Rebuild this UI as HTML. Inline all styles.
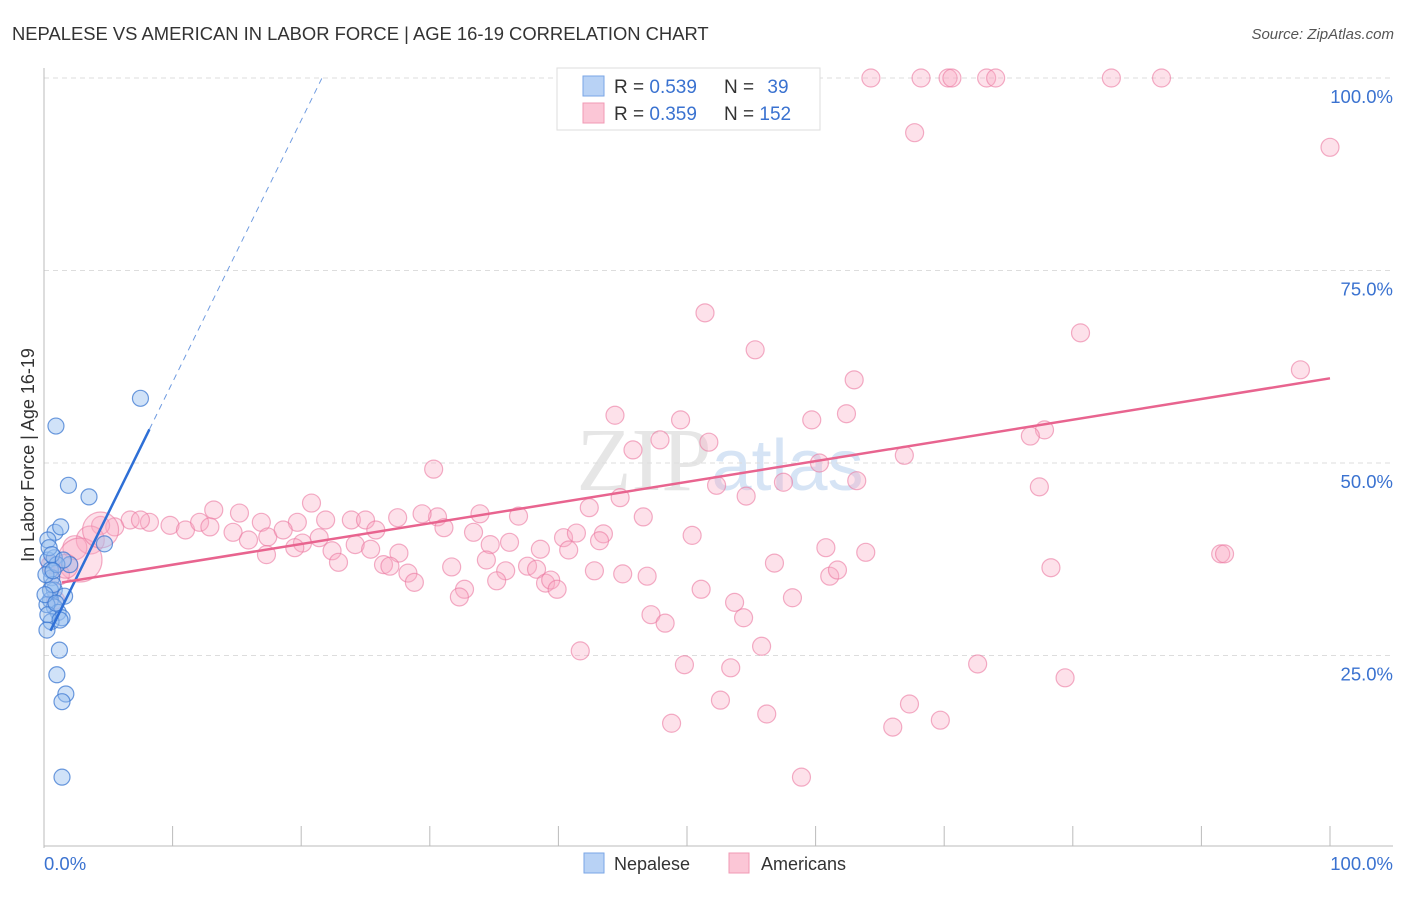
<!DOCTYPE html>
<html><head><meta charset="utf-8"><style>
body{margin:0;background:#fff;font-family:"Liberation Sans",sans-serif}
</style></head><body>
<svg id="c" width="1406" height="892" xmlns="http://www.w3.org/2000/svg" font-family="Liberation Sans, sans-serif">
<text x="12" y="40" font-size="18.4" fill="#333">NEPALESE VS AMERICAN IN LABOR FORCE | AGE 16-19 CORRELATION CHART</text>
<text x="1394" y="39" font-size="15" fill="#555" font-style="italic" text-anchor="end">Source: ZipAtlas.com</text>
<text x="720" y="490" font-size="90" fill="#e6e6e6" text-anchor="middle" font-family="Liberation Serif, serif">ZIP<tspan fill="#d6e4f5" font-family="Liberation Sans, sans-serif" font-size="72">atlas</tspan></text>
<g id="grid"></g>
<g id="axes"></g>
<g id="pts"></g>
<g id="lines"></g>
<g>
<rect x="557" y="68" width="263" height="62" fill="#fff" stroke="#ddd"/>
<rect x="583" y="76" width="21" height="20" fill="#b8d2f5" stroke="#7aa6e6"/>
<rect x="583" y="103" width="21" height="20" fill="#fbc6d6" stroke="#f09ab4"/>
<text x="614" y="93" font-size="19" fill="#333">R = <tspan fill="#3a72d0">0.539</tspan></text>
<text x="724" y="93" font-size="19" fill="#333">N = <tspan fill="#3a72d0" dx="8">39</tspan></text>
<text x="614" y="120" font-size="19" fill="#333">R = <tspan fill="#3a72d0">0.359</tspan></text>
<text x="724" y="120" font-size="19" fill="#333">N = <tspan fill="#3a72d0">152</tspan></text>
</g>
<g>
<rect x="584" y="853" width="20" height="20" fill="#b8d2f5" stroke="#7aa6e6"/>
<text x="614" y="870" font-size="18" fill="#333">Nepalese</text>
<rect x="729" y="853" width="20" height="20" fill="#fbc6d6" stroke="#f09ab4"/>
<text x="761" y="870" font-size="18" fill="#333">Americans</text>
</g>
<text transform="translate(34,455) rotate(-90)" font-size="18" fill="#333" text-anchor="middle">In Labor Force | Age 16-19</text>
</svg>
<script>
const yTicks=[25,50,75,100];
const yTickLabels=["25.0%","50.0%","75.0%","100.0%"];
const xTickLabels=["0.0%","100.0%"];
const blueX=[0.93,7.5,1.9,3.5,0.86,1.3,4.7,0.3,0.8,0.5,0.6,0.8,1.6,0.5,0.8,1.1,1.4,0.55,1.2,1.0,1.7,1.4,1.4,0.3,0.5,2.0,0.23,0.7,0.15,0.4,1.0,0.3,1.25,0.6,0.08,1.5,0.93,0.23,0.7];
const blueY=[54.8,58.4,47.1,45.6,41.0,41.7,39.5,37.4,37.7,36.1,35.1,33.5,32.7,32.2,31.3,30.6,29.9,29.4,25.7,22.5,20.0,19.0,9.2,40.0,33.5,36.8,31.6,34.2,35.5,39.0,36.8,30.3,29.6,38.1,32.9,37.4,31.8,28.3,36.0];
const pinkX=[59.0,64.3,68.2,70.3,70.6,73.3,74.0,83.0,86.9,67.7,100,51.4,80.6,55.3,97.7,63.0,44.4,59.7,62.4,49.5,45.8,51.7,77.8,76.7,47.9,30.3,60.3,66.9,63.2,57.5,52.3,77.4,54.6,44.8,20.8,13.2,15.2,30.6,33.9,36.9,42.4,46.6,29.4,27.5,16.9,19.7,21.9,23.9,25.0,8.2,6.7,5.5,4.4,9.8,11.0,12.1,7.5,12.9,14.7,17.4,18.6,21.4,25.8,31.1,33.4,40.4,43.5,41.4,43.2,50.4,60.8,63.9,24.2,27.6,22.4,25.4,20.1,34.7,36.2,38.6,40.8,15.9,17.3,19.5,34.4,26.4,22.9,26.9,31.7,37.6,38.3,35.9,42.8,45.0,46.9,56.8,61.1,61.7,78.3,91.5,91.8,28.3,28.8,35.2,39.0,39.4,39.9,32.7,32.3,51.1,53.7,58.2,47.2,48.3,54.4,55.8,41.7,49.8,53.4,72.6,79.4,52.6,67.3,56.2,48.8,69.7,66.0,58.9,3.6,2.4,2.8,1.2,1.7,4.4,0.9,0.5];
const pinkY=[100,100,100,100,100,100,100,100,100,92.9,91.0,69.5,66.9,64.7,62.1,60.8,56.2,55.6,56.4,55.6,51.7,52.7,54.3,53.5,53.0,49.2,50.0,51.0,47.7,47.5,47.1,46.9,45.7,45.5,44.8,43.9,43.5,43.0,43.4,43.1,44.2,43.0,43.4,42.9,42.3,42.3,42.6,42.6,42.6,42.3,42.6,41.7,41.9,41.9,41.3,42.3,42.6,41.7,41.0,40.4,41.3,40.3,41.3,41.6,41.0,40.3,40.8,40.9,39.9,40.6,39.0,38.4,39.4,38.3,38.6,38.8,39.6,39.4,39.7,38.8,38.7,40.0,38.1,39.0,37.4,36.8,37.1,36.6,36.5,36.6,36.2,36.0,36.0,35.6,35.3,37.0,35.3,36.1,36.4,38.2,38.2,35.7,34.5,34.7,34.4,34.8,33.6,33.6,32.6,33.6,31.9,32.5,30.3,29.2,29.9,26.2,25.6,23.8,23.4,23.9,22.1,19.2,18.7,17.4,16.2,16.6,15.7,9.2,40.0,39.0,37.4,35.5,36.6,41.3,32.2,36.8];
const pinkBig=[14,12,22,10,12,18,9,9];
const blueTrend=[26.5,3.4,8.2,21.6];
const pinkTrend=[34.1,0.269,1.4,100];
const NS="http://www.w3.org/2000/svg";
const X=v=>44+v*12.86, Y=v=>848-v*7.7;
function mk(p,t,a){const e=document.createElementNS(NS,t);for(const k in a)e.setAttribute(k,a[k]);p.appendChild(e);return e;}
const grid=document.getElementById('grid'),axes=document.getElementById('axes'),pts=document.getElementById('pts'),lines=document.getElementById('lines');
yTicks.forEach((t,i)=>{
 const l=mk(grid,'line',{x1:44,x2:1393,y1:Y(t),y2:Y(t),stroke:'#ddd','stroke-dasharray':'5,4'});
 
 
 const tx=mk(axes,'text',{x:1393,y:Y(t)+25,'font-size':18.5,fill:'#3a72d0','text-anchor':'end'});tx.textContent=yTickLabels[i];
 
 
});
const ya=mk(axes,'line',{x1:44,x2:44,y1:68,y2:848,stroke:'#bbb'});


const xa=mk(axes,'line',{x1:44,x2:1393,y1:846,y2:846,stroke:'#bbb'});


for(let i=1;i<=10;i++){const t=mk(axes,'line',{x1:X(i*10),x2:X(i*10),y1:826,y2:846,stroke:'#bbb'});
 
 }
[[0,'start',44],[1,'end',1393]].forEach(([i,a,x])=>{const t=mk(axes,'text',{x:x,y:870,'font-size':18.5,fill:'#3a72d0','text-anchor':a});t.textContent=xTickLabels[i];
 
 });
pinkX.forEach((v,i)=>{const n=pinkX.length-pinkBig.length;const r=i>=n?pinkBig[i-n]:9;
 const c=mk(pts,'circle',{cx:X(v),cy:Y(pinkY[i]),r:r,fill:'rgba(248,170,195,0.35)',stroke:'rgba(235,120,160,0.6)','stroke-width':1.2});
 
 });
blueX.forEach((v,i)=>{const c=mk(pts,'circle',{cx:X(v),cy:Y(blueY[i]),r:8,fill:'rgba(150,190,240,0.45)',stroke:'rgba(60,120,210,0.75)','stroke-width':1.2});
 
 });
const bf=x=>blueTrend[0]+blueTrend[1]*x;
const bs=mk(lines,'line',{x1:X(0.5),y1:Y(bf(0.5)),x2:X(blueTrend[2]),y2:Y(bf(blueTrend[2])),stroke:'#2e6fd6','stroke-width':2.5});


const bd=mk(lines,'line',{x1:X(blueTrend[2]),y1:Y(bf(blueTrend[2])),x2:X(blueTrend[3]),y2:Y(bf(blueTrend[3])),stroke:'#6f9be0','stroke-width':1,'stroke-dasharray':'6,5'});


const pf=x=>pinkTrend[0]+pinkTrend[1]*x;
const pl=mk(lines,'line',{x1:X(pinkTrend[2]),y1:Y(pf(pinkTrend[2])),x2:X(pinkTrend[3]),y2:Y(pf(pinkTrend[3])),stroke:'#e8648f','stroke-width':2.5});


</script>
</body></html>
